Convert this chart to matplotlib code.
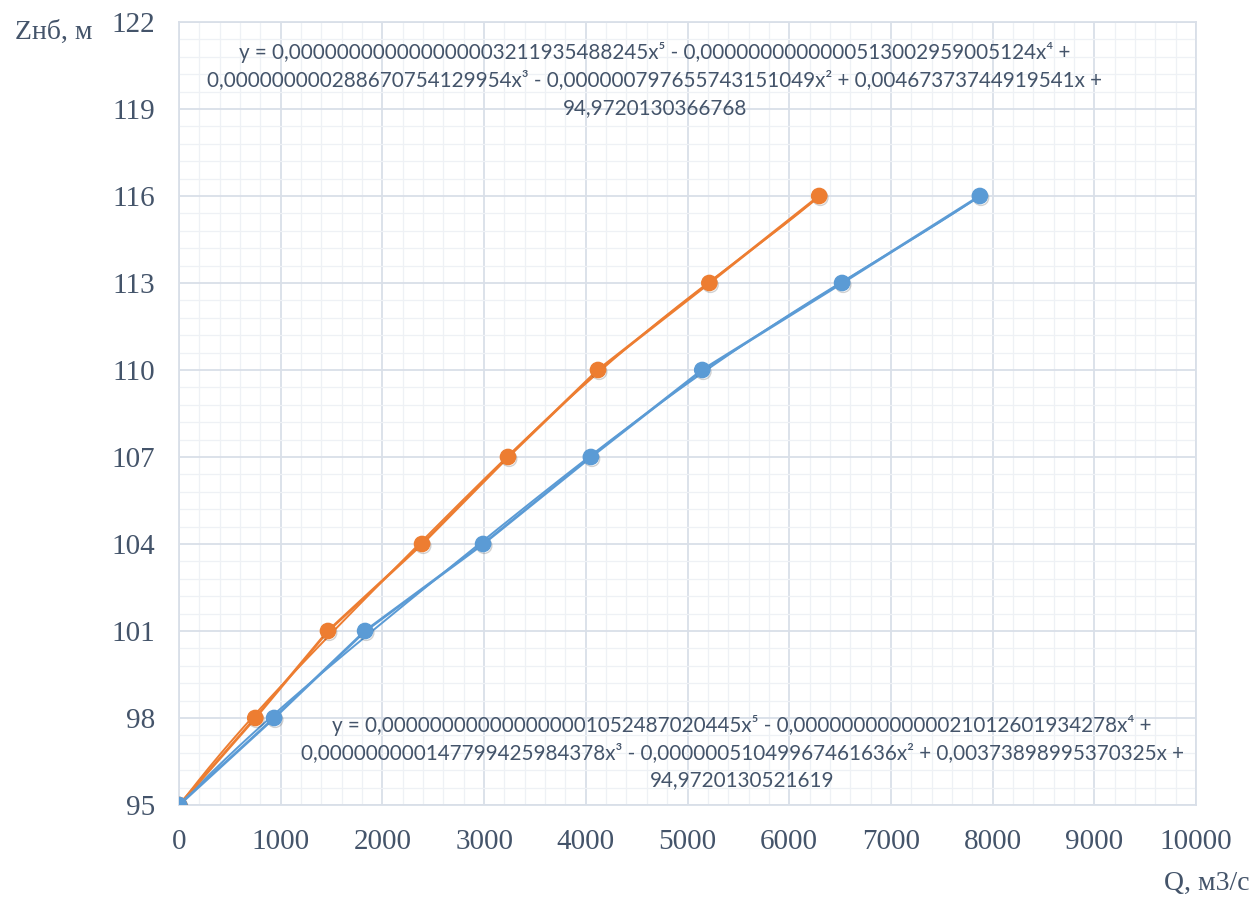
import numpy as np
import matplotlib
matplotlib.use('Agg')
import matplotlib.pyplot as plt
import matplotlib.patheffects as pe

# Стоковые кривые Q = f(Zнб)
z_levels = [95, 98, 101, 104, 107, 110, 113, 116]
q_orange = [0, 750, 1465, 2390, 3235, 4120, 5215, 6295]
q_blue = [0, 935, 1830, 2990, 4050, 5145, 6520, 7875]

# коэффициенты полиномиальных линий тренда (x^5 ... x^0)
coef_orange = ['0,000000000000000003211935488245', '-0,0000000000000513002959005124',
               '0,000000000288670754129954', '-0,000000797655743151049',
               '0,00467373744919541', '94,9720130366768']
coef_blue = ['0,000000000000000001052487020445', '-0,000000000000021012601934278',
             '0,000000000147799425984378', '-0,00000051049967461636',
             '0,00373898995370325', '94,9720130521619']

x_ticks = np.arange(0, 10001, 1000)
y_ticks = np.arange(95, 123, 3)

C_ORANGE = '#ED7D31'
C_BLUE = '#5B9BD5'
TXT = '#44546A'


def parse(c):
    return [float(s.replace(',', '.')) for s in c]


def eq_text(c):
    sup = ['\u2075', '\u2074', '\u00b3', '\u00b2', '', '']
    parts = []
    for i, s in enumerate(c):
        sign = '-' if s.startswith('-') else '+'
        body = s.lstrip('-')
        if i < 4:
            term = body + 'x' + sup[i]
        elif i == 4:
            term = body + 'x'
        else:
            term = body
        parts.append((sign, term))
    line1 = 'y = ' + parts[0][1] + ' ' + parts[1][0] + ' ' + parts[1][1] + ' ' + parts[2][0]
    line2 = parts[2][1] + ' ' + parts[3][0] + ' ' + parts[3][1] + ' ' + parts[4][0] + ' ' + parts[4][1] + ' ' + parts[5][0]
    line3 = parts[5][1]
    return line1 + '\n' + line2 + '\n' + line3


fig = plt.figure(figsize=(12.54, 8.99), dpi=100)
ax = fig.add_axes([179 / 1254, 1 - 805 / 899, (1196 - 179) / 1254, (805 - 22) / 899])

ax.set_xlim(0, 10000)
ax.set_ylim(95, 122)
ax.set_xticks(x_ticks)
ax.set_xticks(np.arange(0, 10001, 200), minor=True)
ax.set_yticks(y_ticks)
ax.set_yticks(np.linspace(95, 122, 46), minor=True)
ax.grid(which='major', color='#D9DFE8', lw=1.3)
ax.grid(which='minor', color='#EEF1F5', lw=0.9)
ax.set_axisbelow(True)
for sp in ax.spines.values():
    sp.set_color('#D9DFE8')
    sp.set_linewidth(1.3)
ax.tick_params(which='both', length=0)
ax.tick_params(axis='x', pad=17)
ax.tick_params(axis='y', pad=17)
for lab in ax.get_xticklabels() + ax.get_yticklabels():
    lab.set_family('Liberation Serif')
    lab.set_fontsize(21)
    lab.set_color(TXT)

shadow = [pe.SimpleLineShadow(offset=(0.8, -1.3), shadow_color='k', alpha=0.18), pe.Normal()]

for q, c, col in [(q_orange, coef_orange, C_ORANGE), (q_blue, coef_blue, C_BLUE)]:
    p = np.poly1d(parse(c))
    xs = np.linspace(min(q), max(q), 300)
    ax.plot(xs, p(xs), color=col, lw=1.4, zorder=3)
    ax.plot(q, z_levels, color=col, lw=2.0, zorder=4)
    ax.plot(q, z_levels, ls='none', marker='o', ms=11, color=col, zorder=5,
            path_effects=shadow)

ax.text(4680, 120.0, eq_text(coef_orange), ha='center', va='center', ma='center',
        family='Lato', fontsize=14.9, color=TXT, linespacing=1.45)
ax.text(5536, 96.8, eq_text(coef_blue), ha='center', va='center', ma='center',
        family='Lato', fontsize=14.9, color=TXT, linespacing=1.45)

fig.text(15 / 1254, 1 - 32 / 899, 'Zнб, м', ha='left', va='center',
         family='Liberation Serif', fontsize=20, color=TXT)
fig.text(1250 / 1254, 1 - 883 / 899, 'Q, м3/с', ha='right', va='center',
         family='Liberation Serif', fontsize=20, color=TXT)

fig.savefig('out.png', dpi=100)
